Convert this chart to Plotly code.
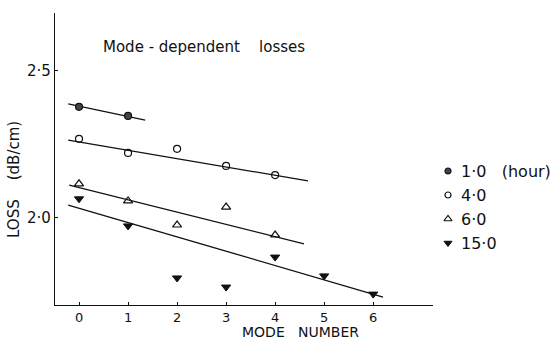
import plotly.graph_objects as go

# ---- data ----
modes_1h = [0, 1]
loss_1h = [2.378, 2.347]
modes_4h = [0, 1, 2, 3, 4]
loss_4h = [2.269, 2.221, 2.235, 2.177, 2.146]
modes_6h = [0, 1, 2, 3, 4]
loss_6h = [2.116, 2.058, 1.976, 2.037, 1.942]
modes_15h = [0, 1, 2, 3, 4, 5, 6]
loss_15h = [2.065, 1.973, 1.796, 1.765, 1.867, 1.803, 1.741]

# fitted straight lines (start/end)
fit_1h_x = [-0.22, 1.35]
fit_1h_y = [2.388, 2.333]
fit_4h_x = [-0.22, 4.67]
fit_4h_y = [2.265, 2.126]
fit_6h_x = [-0.20, 4.59]
fit_6h_y = [2.112, 1.912]
fit_15h_x = [-0.22, 6.20]
fit_15h_y = [2.044, 1.731]

x_tick_vals = [0, 1, 2, 3, 4, 5, 6]
x_tick_text = ["0", "1", "2", "3", "4", "5", "6"]
y_tick_vals = [2.0, 2.5]
y_tick_text = ["2·0", "2·5"]

legend_labels = ["1·0 \u00a0 (hour)", "4·0", "6·0", "15·0"]
title_text = "Mode - dependent \u00a0 \u00a0losses"
x_title = "MODE \u00a0 NUMBER"
y_title = "LOSS \u00a0 \u00a0(dB/cm)"

FONT = "DejaVu Sans"
INK = "#111111"

series = [
    (modes_1h, loss_1h, dict(symbol="circle", size=7, color="#444444", line=dict(color=INK, width=1.2))),
    (modes_4h, loss_4h, dict(symbol="circle-open", size=7, color=INK, line=dict(color=INK, width=1.2))),
    (modes_6h, loss_6h, dict(symbol="triangle-up-open", size=8, color=INK, line=dict(color=INK, width=1.2))),
    (modes_15h, loss_15h, dict(symbol="triangle-down", size=8, color=INK, line=dict(color=INK, width=1))),
]
fits = [(fit_1h_x, fit_1h_y), (fit_4h_x, fit_4h_y), (fit_6h_x, fit_6h_y), (fit_15h_x, fit_15h_y)]

fig = go.Figure()
for fx, fy in fits:
    fig.add_trace(go.Scatter(x=fx, y=fy, mode="lines", line=dict(color=INK, width=1.3),
                             showlegend=False, hoverinfo="skip"))
for (mx, my, mk), lab in zip(series, legend_labels):
    fig.add_trace(go.Scatter(x=mx, y=my, mode="markers", marker=mk, name=lab, showlegend=False))

# manual legend on an auxiliary axis (units = pixels of the legend area)
W, H = 557, 339
ML, MR, MT, MB = 55, 0, 13, 34
pw = W - ML - MR
ph = H - MT - MB
plot_right = 433
main_dom = (plot_right - ML) / pw
leg_dom0 = 0.76
leg_x0 = ML + leg_dom0 * pw
leg_marker_x = 448
leg_text_x = 459
leg_rows = [171, 195, 219, 243]
for (mx, my, mk), row in zip(series, leg_rows):
    m2 = dict(mk)
    m2["size"] = mk["size"] - 1
    fig.add_trace(go.Scatter(x=[leg_marker_x], y=[row], mode="markers", marker=m2,
                             xaxis="x2", yaxis="y2", showlegend=False, hoverinfo="skip"))
annotations = []
for lab, row in zip(legend_labels, leg_rows):
    annotations.append(dict(x=leg_text_x, y=row, xref="x2", yref="y2", text=lab, showarrow=False,
                            xanchor="left", yanchor="middle", font=dict(family=FONT, size=16, color=INK)))

xr = [-0.49, 7.22]
yr = [1.704, 2.697]
annotations.append(dict(x=(101 - ML) / pw, y=(H - MB - 47) / ph,
                        xref="paper", yref="paper", text=title_text, showarrow=False,
                        xanchor="left", yanchor="middle", font=dict(family=FONT, size=15, color=INK)))
annotations.append(dict(x=(300 - ML) / pw, y=(H - MB - 341) / ph, xref="paper", yref="paper",
                        text=x_title, showarrow=False, xanchor="center", yanchor="bottom", borderpad=0,
                        font=dict(family=FONT, size=14, color=INK)))
annotations.append(dict(x=(14 - ML) / pw, y=(H - MB - 180) / ph, xref="paper", yref="paper",
                        text=y_title, showarrow=False, textangle=-90, xanchor="center", yanchor="middle",
                        font=dict(family=FONT, size=15, color=INK)))

fig.update_layout(
    width=W, height=H,
    margin=dict(l=ML, r=MR, t=MT, b=MB, pad=0),
    paper_bgcolor="white", plot_bgcolor="white",
    showlegend=False,
    font=dict(family=FONT, size=14, color=INK),
    xaxis=dict(domain=[0, main_dom], range=xr, tickvals=x_tick_vals, ticktext=x_tick_text,
               showgrid=False, zeroline=False, showline=True, linecolor=INK, linewidth=1.3,
               ticks="inside", ticklen=3, tickcolor=INK, tickfont=dict(family=FONT, size=13, color=INK)),
    yaxis=dict(range=yr, tickvals=y_tick_vals, ticktext=y_tick_text,
               showgrid=False, zeroline=False, showline=True, linecolor=INK, linewidth=1.3,
               ticks="inside", ticklen=3, tickcolor=INK, tickfont=dict(family=FONT, size=15, color=INK)),
    xaxis2=dict(domain=[leg_dom0, 1], range=[leg_x0, W], visible=False, anchor="y2"),
    yaxis2=dict(domain=[0, 1], range=[H - MB, MT], visible=False, anchor="x2"),
    annotations=annotations,
)

fig.write_html("out.html")
